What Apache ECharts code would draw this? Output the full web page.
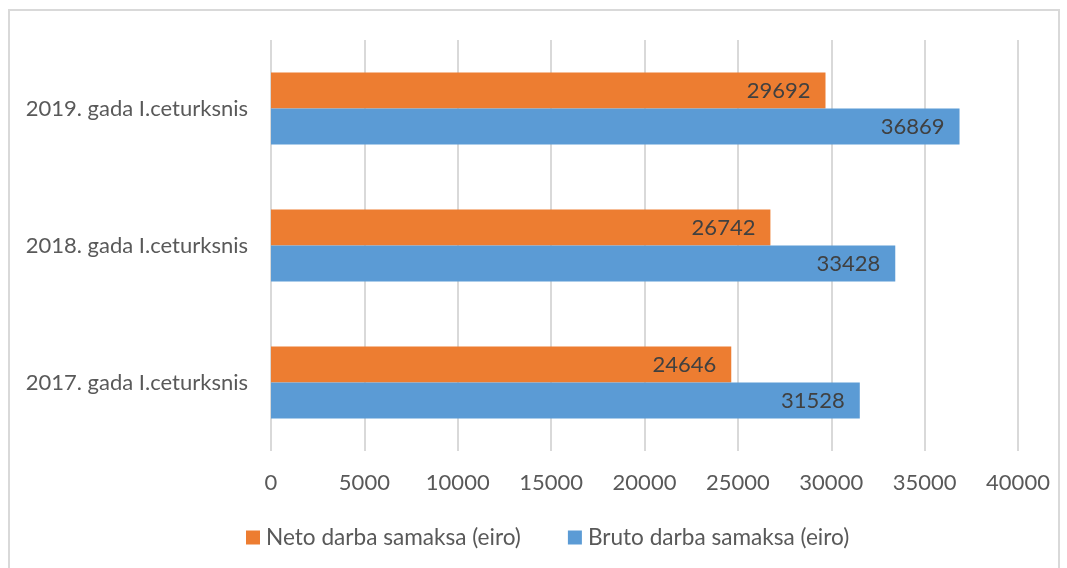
<!DOCTYPE html>
<html>
<head>
<meta charset="utf-8">
<script src="https://cdn.jsdelivr.net/npm/echarts@6/dist/echarts.min.js"></script>
<style>
  html, body { margin: 0; padding: 0; background: #fff; }
  #frame { position: absolute; left: 8px; top: 9px; width: 1048px; height: 600px; border: 2px solid #d9d9d9; }
  #main { position: absolute; left: 0; top: 0; width: 1067px; height: 568px; }
</style>
</head>
<body>
<div id="frame"></div>
<div id="main"></div>
<script>
var categories = ['2017. gada I.ceturksnis', '2018. gada I.ceturksnis', '2019. gada I.ceturksnis'];
var netoValues = [24646, 26742, 29692];
var brutoValues = [31528, 33428, 36869];
var seriesNames = ['Neto darba samaksa (eiro)', 'Bruto darba samaksa (eiro)'];

var font = 'Lato';
var textColor = '#595959';
var fs = 22;

var chart = echarts.init(document.getElementById('main'));

var option = {
  animation: false,
  textStyle: { fontFamily: font },
  grid: { left: 271, right: 49, top: 40, height: 411, containLabel: false },
  legend: {
    data: seriesNames,
    top: 521,
    left: 241,
    itemWidth: 14,
    itemHeight: 14,
    itemGap: 47,
    icon: 'rect',
    textStyle: { fontSize: 22.6, color: textColor, fontFamily: font, padding: [0, 0, 0, 1] }
  },
  xAxis: {
    type: 'value',
    min: 0,
    max: 40000,
    interval: 5000,
    axisLine: { show: false },
    axisTick: { show: false },
    splitLine: { lineStyle: { color: '#d9d9d9', width: 2 } },
    axisLabel: {
      fontSize: fs, color: textColor, margin: 21, fontFamily: font,
      formatter: function (v) { return String(v); }
    }
  },
  yAxis: {
    type: 'category',
    data: categories,
    axisLine: { show: false },
    axisTick: { show: false },
    axisLabel: { fontSize: fs, color: textColor, margin: 23, fontFamily: font }
  },
  series: [
    {
      name: seriesNames[0],
      type: 'bar',
      data: netoValues,
      barWidth: 36,
      barGap: '0%',
      itemStyle: { color: '#ed7d31' },
      label: { show: true, position: 'insideRight', distance: 15, fontSize: fs, color: '#404040', fontFamily: font }
    },
    {
      name: seriesNames[1],
      type: 'bar',
      data: brutoValues,
      barWidth: 36,
      barGap: '0%',
      itemStyle: { color: '#5b9bd5' },
      label: { show: true, position: 'insideRight', distance: 15, fontSize: fs, color: '#404040', fontFamily: font }
    }
  ]
};

chart.setOption(option);
</script>
</body>
</html>
